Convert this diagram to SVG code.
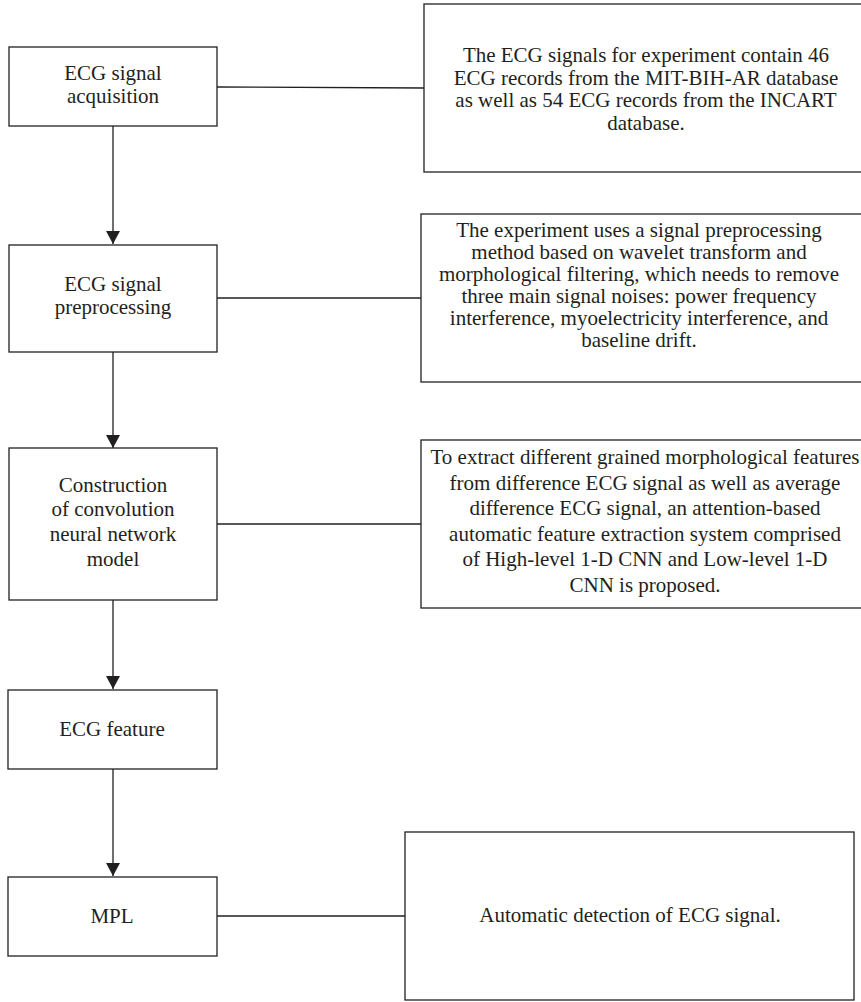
<svg xmlns="http://www.w3.org/2000/svg" width="861" height="1002" viewBox="0 0 861 1002">
<defs>
<marker id="arr" markerUnits="userSpaceOnUse" markerWidth="14" markerHeight="14" refX="13" refY="7" orient="auto" viewBox="0 0 14 14">
<path d="M0,0 L13,7 L0,14 Z" fill="#231f20"/>
</marker>
<style>
rect{fill:#fff;stroke:#231f20;stroke-width:1.3}
text{font-family:"Liberation Serif","Times New Roman",serif;font-size:21px;fill:#231f20;text-anchor:middle}
.c line{stroke:#231f20;stroke-width:1.3}
</style>
</defs>
<rect x="0" y="0" width="861" height="1002" style="fill:#fff;stroke:none"/>
<g class="c" id="connectors">
<line x1="113" y1="126" x2="113" y2="244" marker-end="url(#arr)"/>
<line x1="113" y1="352" x2="113" y2="448" marker-end="url(#arr)"/>
<line x1="113" y1="600" x2="113" y2="689" marker-end="url(#arr)"/>
<line x1="113" y1="769" x2="113" y2="876" marker-end="url(#arr)"/>
<line x1="217" y1="87" x2="424" y2="88"/>
<line x1="217" y1="298" x2="421" y2="298"/>
<line x1="217" y1="524" x2="421" y2="524"/>
<line x1="217" y1="916" x2="405" y2="916"/>
</g>
<g id="n1">
<rect x="9" y="47" width="208" height="79"/>
<text x="113" y="80">ECG signal</text>
<text x="113" y="103">acquisition</text>
</g>
<g id="n2">
<rect x="9" y="245" width="208" height="107"/>
<text x="113" y="291">ECG signal</text>
<text x="113" y="314">preprocessing</text>
</g>
<g id="n3">
<rect x="9" y="448" width="208" height="152"/>
<text x="113" y="492">Construction</text>
<text x="113" y="516">of convolution</text>
<text x="113" y="541">neural network</text>
<text x="113" y="566">model</text>
</g>
<g id="n4">
<rect x="8" y="690" width="209" height="79"/>
<text x="112" y="736">ECG feature</text>
</g>
<g id="n5">
<rect x="8" y="877" width="209" height="79"/>
<text x="112" y="923">MPL</text>
</g>
<g id="d1">
<rect x="424" y="4" width="450" height="168"/>
<text x="646" y="62">The ECG signals for experiment contain 46</text>
<text x="646" y="84.5">ECG records from the MIT-BIH-AR database</text>
<text x="646" y="107">as well as 54 ECG records from the INCART</text>
<text x="646" y="129.5">database.</text>
</g>
<g id="d2">
<rect x="421" y="214" width="450" height="168"/>
<text x="639" y="237">The experiment uses a signal preprocessing</text>
<text x="639" y="259">method based on wavelet transform and</text>
<text x="639" y="281">morphological filtering, which needs to remove</text>
<text x="639" y="303">three main signal noises: power frequency</text>
<text x="639" y="325">interference, myoelectricity interference, and</text>
<text x="639" y="347">baseline drift.</text>
</g>
<g id="d3">
<rect x="421" y="440" width="450" height="168"/>
<text x="645" y="464">To extract different grained morphological features</text>
<text x="645" y="489.5">from difference ECG signal as well as average</text>
<text x="645" y="515">difference ECG signal, an attention-based</text>
<text x="645" y="540.5">automatic feature extraction system comprised</text>
<text x="645" y="566">of High-level 1-D CNN and Low-level 1-D</text>
<text x="645" y="591.5">CNN is proposed.</text>
</g>
<g id="d5">
<rect x="405" y="832" width="449" height="168"/>
<text x="630" y="922">Automatic detection of ECG signal.</text>
</g>
</svg>
